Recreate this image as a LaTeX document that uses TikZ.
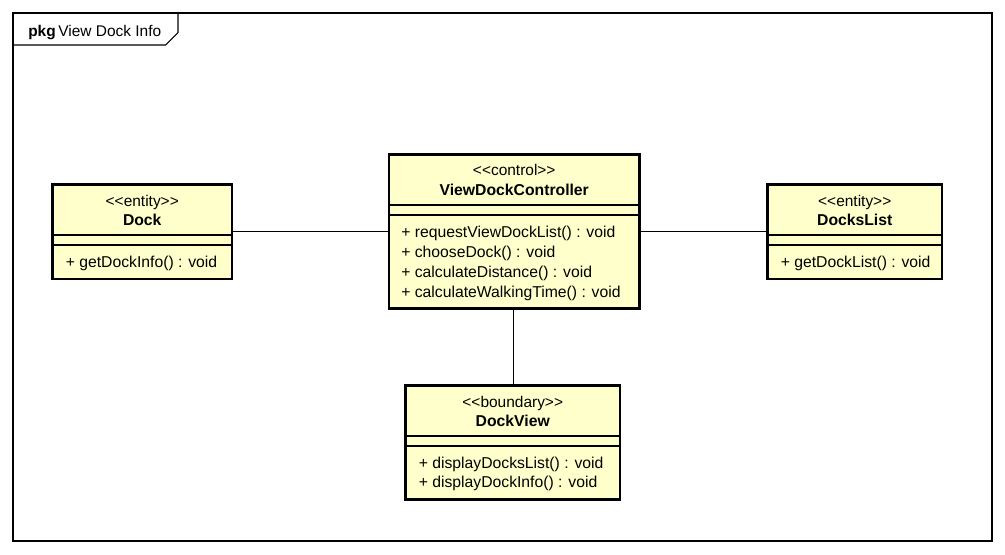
\documentclass[tikz,border=0pt]{standalone}
\usepackage{fontspec}
\setmainfont{Liberation Sans}
\usetikzlibrary{calc}
\definecolor{classfill}{HTML}{FFFFCC}
\tikzset{
  classbox/.style={draw, line width=2.2pt, fill=classfill, inner sep=0pt, outer sep=0pt},
  sepline/.style={line width=0.9pt},
  stereo/.style={anchor=base, inner sep=0pt, font=\fontsize{11.6}{14}\selectfont},
  cname/.style={anchor=base, inner sep=0pt, font=\fontsize{11.8}{14}\selectfont\bfseries},
  op/.style={anchor=base west, inner sep=0pt, font=\fontsize{11.8}{14}\selectfont},
  link/.style={line width=0.8pt},
  frame/.style={draw, line width=0.8pt, inner sep=0pt, outer sep=0pt},
}
\begin{document}
\begin{tikzpicture}[x=0.75pt, y=-0.75pt]
\useasboundingbox (0,0) rectangle (1005,554);

% package frame with its name tab
\node[frame, anchor=north west, minimum width=979*0.75pt, minimum height=528*0.75pt] (pkg) at (13,13) {};
\draw[line width=0.8pt] ($(pkg.north west)+(0,32)$) -- ++(152.5,0) -- ++(12.5,-12.5) -- ($(pkg.north west)+(165,0)$);
\node[anchor=base west, inner sep=0pt, font=\fontsize{11.6}{14}\selectfont] (pkgname) at (28,36) {\textbf{pkg}\,View Dock Info};

% classes
\node[classbox, minimum width=179.5*0.75pt, minimum height=94.5*0.75pt] (dock) at (142.25,231.75) {};
\node[classbox, minimum width=250.5*0.75pt, minimum height=154*0.75pt] (ctrl) at (514.25,231.5) {};
\node[classbox, minimum width=174.5*0.75pt, minimum height=94.5*0.75pt] (list) at (854.75,231.75) {};
\node[classbox, minimum width=214.5*0.75pt, minimum height=114*0.75pt] (view) at (512.75,442.5) {};

% compartments
\foreach \c in {dock, ctrl, list, view} {
  \draw[sepline] ($(\c.north west)+(0,50.5)$) -- ($(\c.north east)+(0,50.5)$);
  \draw[sepline] ($(\c.north west)+(0,60.5)$) -- ($(\c.north east)+(0,60.5)$);
}

% Dock
\node[stereo] (dockst) at ($(dock.north)+(0,22)$) {<{}<entity>{}>};
\node[cname] (docknm) at ($(dock.north)+(0,41)$) {Dock};
\node[op] (dockop1) at ($(dock.north west)+(13,83)$) {+ getDockInfo() : void};

% ViewDockController
\node[stereo] (ctrlst) at ($(ctrl.north)+(0,21)$) {<{}<control>{}>};
\node[cname] (ctrlnm) at ($(ctrl.north)+(0,41)$) {ViewDockController};
\node[op] (ctrlop1) at ($(ctrl.north west)+(12,83)$) {+ requestViewDockList() : void};
\node[op] (ctrlop2) at ($(ctrl.north west)+(12,103)$) {+ chooseDock() : void};
\node[op] (ctrlop3) at ($(ctrl.north west)+(12,123)$) {+ calculateDistance() : void};
\node[op] (ctrlop4) at ($(ctrl.north west)+(12,143)$) {+ calculateWalkingTime() : void};

% DocksList
\node[stereo] (listst) at ($(list.north)+(0,22)$) {<{}<entity>{}>};
\node[cname] (listnm) at ($(list.north)+(0,41)$) {DocksList};
\node[op] (listop1) at ($(list.north west)+(13,83)$) {+ getDockList() : void};

% DockView
\node[stereo] (viewst) at ($(view.north)+(0,22)$) {<{}<boundary>{}>};
\node[cname] (viewnm) at ($(view.north)+(0,41)$) {DockView};
\node[op] (viewop1) at ($(view.north west)+(13,83)$) {+ displayDocksList() : void};
\node[op] (viewop2) at ($(view.north west)+(13,102)$) {+ displayDockInfo() : void};

% associations
\coordinate (ctrlbot) at ($(ctrl.south)+(-1,0)$);
\draw[link] (dock.east) -- (dock.east -| ctrl.west);
\draw[link] (ctrl.east) -- (ctrl.east -| list.west);
\draw[link] (ctrlbot) -- (ctrlbot |- view.north);
\end{tikzpicture}
\end{document}
